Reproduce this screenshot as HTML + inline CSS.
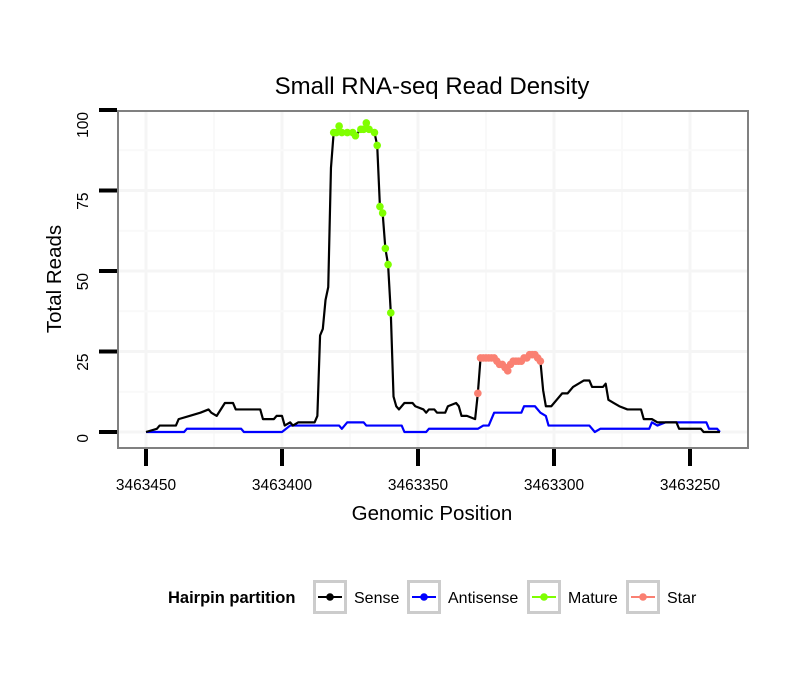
<!DOCTYPE html>
<html><head><meta charset="utf-8"><style>
html,body{margin:0;padding:0;background:#fff;}
svg{display:block;font-family:"Liberation Sans",sans-serif;}
</style></head><body>
<svg id="chart" width="810" height="690" viewBox="0 0 810 690">
<rect width="810" height="690" fill="#fff"/>
<text x="432" y="94" font-size="24" text-anchor="middle">Small RNA-seq Read Density</text>
<g id="grid"></g>
<g id="series"></g>
<rect x="118" y="111" width="630" height="337" fill="none" stroke="#808080" stroke-width="2"/>
<g id="axes"></g>
<text x="432" y="520" font-size="20.5" text-anchor="middle">Genomic Position</text>
<text transform="translate(61,279) rotate(-90)" font-size="20.5" text-anchor="middle">Total Reads</text>
<g>
<text x="168" y="603" font-size="16.5" font-weight="bold">Hairpin partition</text>
<g id="legend-items"></g>
</g>
</svg>
<script>
const xTicks=[3463450,3463400,3463350,3463300,3463250];
const yTicks=[0,25,50,75,100];
const senseX=[3463450,3463446,3463445,3463439,3463438,3463434,3463430,3463427,3463426,3463424,3463421,3463418,3463417,3463408,3463407,3463403,3463402,3463400,3463399,3463397,3463396,3463394,3463388,3463387,3463386,3463385,3463384,3463383,3463382,
3463381,3463380,3463379,3463378,3463376,3463374,3463373,3463371,3463370,3463369,3463368,3463366,3463365,3463364,3463363,3463362,3463361,3463360,
3463359,3463358,3463357,3463355,3463352,3463351,3463348,3463347,3463346,3463344,3463343,3463340,3463339,3463336,3463335,3463334,3463332,3463329,
3463328,3463327,3463326,3463325,3463324,3463323,3463322,3463321,3463320,3463319,3463318,3463317,3463316,3463315,3463314,3463313,3463312,3463311,3463310,3463309,3463308,3463307,3463306,3463305,
3463304,3463303,3463301,3463299,3463297,3463295,3463293,3463289,3463287,3463286,3463282,3463281,3463280,3463278,3463276,3463273,3463268,3463267,3463264,3463262,3463255,3463254,3463246,3463245,3463239];
const senseY=[0,1,2,2,4,5,6,7,6,5,9,9,7,7,4,4,5,5,2,3,2,3,3,5,30,32,41,45,82,
93,93,95,93,93,93,92,94,94,96,94,93,89,70,68,57,52,37,
11,8,7,9,9,8,7,6,7,7,6,6,8,9,8,5,5,4,
12,23,23,23,23,23,23,22,21,21,20,19,21,22,22,22,22,23,23,24,24,24,23,22,
13,8,8,10,12,12,14,16,16,14,14,15,10,9,8,7,7,4,4,3,3,1,1,0,0];
const antiX=[3463450,3463436,3463435,3463415,3463414,3463400,3463397,3463379,3463378,3463376,3463370,3463369,3463356,3463355,3463347,3463346,3463328,3463326,3463324,3463322,3463312,3463311,3463307,3463305,3463303,3463302,3463287,3463285,3463283,3463265,3463264,3463262,3463259,3463244,3463243,3463240,3463239];
const antiY=[0,0,1,1,0,0,2,2,1,3,3,2,2,0,0,1,1,2,2,6,6,8,8,6,5,2,2,0,1,1,3,2,3,3,1,1,0];
const matureX=[3463381,3463380,3463379,3463378,3463376,3463374,3463373,3463371,3463370,3463369,3463368,3463366,3463365,3463364,3463363,3463362,3463361,3463360];
const matureY=[93,93,95,93,93,93,92,94,94,96,94,93,89,70,68,57,52,37];
const starX=[3463328,3463327,3463326,3463325,3463324,3463323,3463322,3463321,3463320,3463319,3463318,3463317,3463316,3463315,3463314,3463313,3463312,3463311,3463310,3463309,3463308,3463307,3463306,3463305];
const starY=[12,23,23,23,23,23,23,22,21,21,20,19,21,22,22,22,22,23,23,24,24,24,23,22];
const legendLabels=["Sense","Antisense","Mature","Star"];
const legendColors=["#000000","#0000ff","#7fff00","#fa8072"];

const NS="http://www.w3.org/2000/svg";
function sx(v){return 146+(3463450-v)*(690-146)/200;}
function sy(v){return 432-v*(432-110)/100;}
function mk(t,a,p){const e=document.createElementNS(NS,t);for(const k in a)e.setAttribute(k,a[k]);p.appendChild(e);return e;}
const grid=document.getElementById('grid'),axes=document.getElementById('axes'),ser=document.getElementById('series');
function inX(x){return x>119&&x<747;}
function inY(y){return y>112&&y<447;}
for(let i=0;i<xTicks.length;i++){
  [xTicks[i],xTicks[i]-25].forEach((v,j)=>{
    const X=sx(v); if(!inX(X))return;
    const l=mk('line',{x1:X,x2:X,y1:112,y2:447,stroke:j?'#f9f9f9':'#f5f5f5','stroke-width':j?2:3},grid);
    
    
  });
}
for(let i=0;i<yTicks.length;i++){
  [yTicks[i],yTicks[i]+12.5].forEach((v,j)=>{
    const Y=sy(v); if(!inY(Y))return;
    const l=mk('line',{x1:119,x2:747,y1:Y,y2:Y,stroke:j?'#f9f9f9':'#f5f5f5','stroke-width':j?2:3},grid);
    
    
  });
}
xTicks.forEach(v=>{
  const t=mk('line',{x1:sx(v),x2:sx(v),y1:449,y2:466,stroke:'#000','stroke-width':4},axes);
  
  
  const s=mk('text',{x:sx(v),y:490,'font-size':15.5,'text-anchor':'middle'},axes);s.textContent=v;
  
  
});
yTicks.forEach(v=>{
  const t=mk('line',{x1:99,x2:117,y1:sy(v),y2:sy(v),stroke:'#000','stroke-width':4},axes);
  
  
  const s=mk('text',{transform:`translate(88,${sy(v)+2}) rotate(-90)`,'font-size':15.5,'text-anchor':'end'},axes);s.textContent=v;
  
  
});
function line(xs,ys,c,name){
  const p=mk('polyline',{points:xs.map((x,i)=>sx(x)+','+sy(ys[i])).join(' '),fill:'none',stroke:c,'stroke-width':2.2,'stroke-linejoin':'round'},ser);
  
  
}
function pts(xs,ys,c,name){
  xs.forEach((x,i)=>{const e=mk('circle',{cx:sx(x),cy:sy(ys[i]),r:3.8,fill:c},ser);
  
  });
}
line(antiX,antiY,'#0000ff','antisense-line');
line(senseX,senseY,'#000000','sense-line');
pts(matureX,matureY,'#7fff00','mature-point');
pts(starX,starY,'#fa8072','star-point');
const li=document.getElementById('legend-items');
const bx=[313,407,527,626];
legendLabels.forEach((lab,i)=>{
  const g=mk('g',{},li);
  
  
  mk('rect',{x:bx[i]+1.5,y:581.5,width:31,height:31,fill:'#fff',stroke:'#cccccc','stroke-width':3},g);
  mk('line',{x1:bx[i]+5,x2:bx[i]+29,y1:597,y2:597,stroke:legendColors[i],'stroke-width':2},g);
  mk('circle',{cx:bx[i]+17,cy:597,r:3.8,fill:legendColors[i]},g);
  const t=mk('text',{x:bx[i]+41,y:603,'font-size':16},g);t.textContent=lab;
});
</script>
</body></html>
